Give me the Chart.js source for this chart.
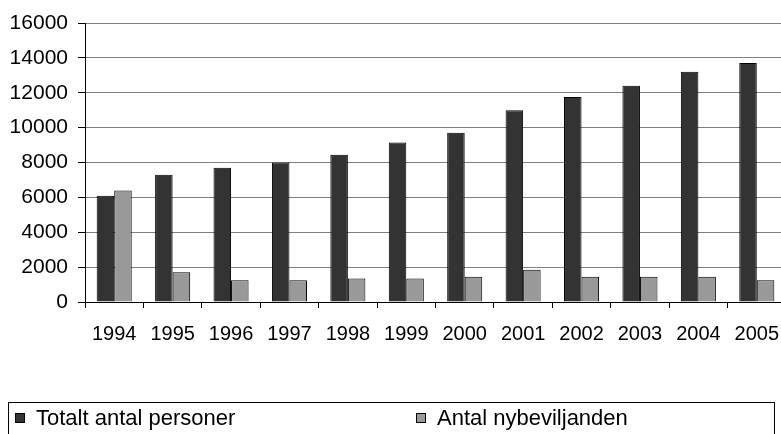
<!DOCTYPE html>
<html>
<head>
<meta charset="utf-8">
<script src="https://cdn.jsdelivr.net/npm/chart.js@4"></script>
<style>
  html, body { margin: 0; padding: 0; background: white; overflow: hidden; }
  canvas { display: block; }
</style>
</head>
<body>
<canvas id="chart" width="800" height="434"></canvas>
<script>
const years = ['1994', '1995', '1996', '1997', '1998', '1999', '2000', '2001', '2002', '2003', '2004', '2005']
const totalt = [6100, 7300, 7700, 8000, 8450, 9150, 9700, 11000, 11750, 12400, 13200, 13700]
const nybeviljade = [6400, 1700, 1250, 1250, 1350, 1350, 1450, 1850, 1450, 1450, 1450, 1250]
const seriesNames = ['Totalt antal personer', 'Antal nybeviljanden']
const yTicks = [0, 2000, 4000, 6000, 8000, 10000, 12000, 14000, 16000]

const font = '"Liberation Sans", Arial, sans-serif'

// legend drawn as a boxed row at the bottom, like the original
const boxLegend = {
  id: 'boxLegend',
  afterDraw(chart) {
    const ctx = chart.ctx
    ctx.save()
    ctx.strokeStyle = '#000'
    ctx.lineWidth = 1
    ctx.strokeRect(8.5, 402.5, 766, 40)
    const xs = [15, 416]
    chart.data.datasets.forEach((ds, i) => {
      ctx.fillStyle = ds.backgroundColor
      ctx.fillRect(xs[i], 413, 10, 10)
      ctx.strokeRect(xs[i] + 0.5, 413.5, 9, 9)
      ctx.fillStyle = '#000'
      ctx.font = '22px ' + font
      ctx.textBaseline = 'middle'
      ctx.fillText(ds.label, xs[i] + 21, 419)
    })
    ctx.restore()
  }
}

const ctx = document.getElementById('chart').getContext('2d')
new Chart(ctx, {
  type: 'bar',
  data: {
    labels: years,
    datasets: [
      {
        label: seriesNames[0],
        data: totalt,
        backgroundColor: '#333333',
        borderColor: '#000',
        borderWidth: 1
      },
      {
        label: seriesNames[1],
        data: nybeviljade,
        backgroundColor: '#999999',
        borderColor: '#000',
        borderWidth: 1
      }
    ]
  },
  options: {
    responsive: false,
    animation: false,
    layout: { padding: { top: 23, left: 0, right: 14, bottom: 92 } },
    datasets: { bar: { categoryPercentage: 0.6, barPercentage: 1 } },
    plugins: {
      legend: { display: false },
      tooltip: { enabled: false }
    },
    scales: {
      x: {
        offset: true,
        afterFit(scale) { scale.height = 40 },
        grid: { offset: true, drawOnChartArea: false, tickLength: 6, tickColor: '#000' },
        border: { color: '#000', width: 1 },
        ticks: { color: '#000', font: { family: font, size: 20 }, padding: 14, maxRotation: 0, autoSkip: false }
      },
      y: {
        min: 0,
        max: 16000,
        afterFit(scale) { scale.width = 85 },
        afterBuildTicks(scale) { scale.ticks = yTicks.map(v => ({ value: v })) },
        grid: { color: '#808080', lineWidth: 1, tickLength: 7, tickColor: '#000' },
        border: { color: '#000', width: 1 },
        ticks: {
          color: '#000',
          font: { family: font, size: 21 },
          padding: 10,
          callback: v => String(v)
        }
      }
    }
  },
  plugins: [boxLegend]
})
</script>
</body>
</html>
